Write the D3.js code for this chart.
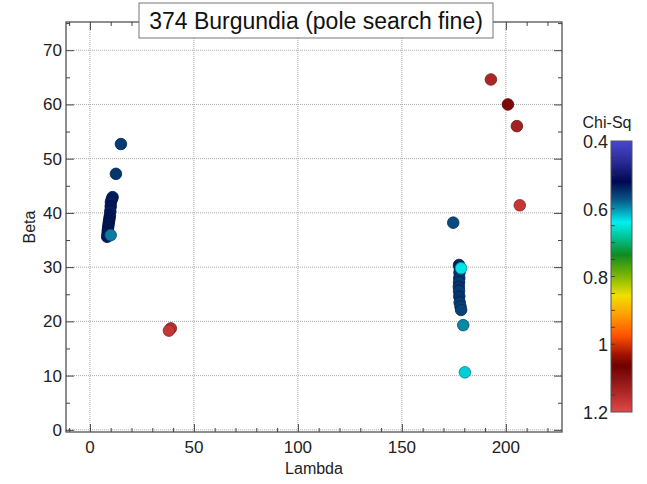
<!DOCTYPE html>
<html><head><meta charset="utf-8">
<script src="https://cdn.jsdelivr.net/npm/d3@7"></script>
<style>body{margin:0;background:#fff;} text{font-family:"Liberation Sans",Arial,sans-serif;}</style>
</head><body><svg id="c" width="647" height="484"></svg>
<script>
const title = "374 Burgundia (pole search fine)";
const lambda = [14.9,12.5,10.9,10.5,10.1,10.0,9.8,9.6,9.4,9.2,9.0,8.8,8.6,8.5,8.3,10.0,38.9,38.0,
  192.8,201.0,205.3,206.7,174.7,177.5,177.8,177.7,177.6,177.5,177.4,177.5,177.6,177.8,178.2,178.5,178.5,179.5,180.3];
const beta = [52.7,47.2,42.9,42.5,42.0,41.2,40.3,39.5,39.0,38.5,38.0,37.4,36.8,36.2,35.6,35.9,18.7,18.3,
  64.6,60.0,56.0,41.4,38.2,30.4,29.9,29.0,28.0,27.2,26.4,25.6,24.6,23.5,22.7,22.1,29.8,19.3,10.6];
const chisq = [0.555,0.55,0.54,0.535,0.535,0.53,0.535,0.53,0.53,0.53,0.53,0.53,0.53,0.53,0.53,0.59,1.16,1.17,
  1.14,1.08,1.13,1.17,0.565,0.54,0.545,0.55,0.55,0.555,0.55,0.555,0.55,0.555,0.56,0.56,0.635,0.595,0.625];
const xTicks = [0,50,100,150,200];
const yTicks = [0,10,20,30,40,50,60,70];
const cTicks = [0.4,0.6,0.8,1,1.2];
const cStops = [0,0.076,0.15,0.22,0.30,0.35,0.42,0.50,0.57,0.64,0.72,0.79,0.83,0.91,1];
const cColors = ["#4848d0","#2a2a98","#000850","#0a5a8a","#00f0f0","#00c8a0","#108a20","#80b800","#f0e000","#ffa000","#ff5000","#a01000","#700000","#a02020","#e04848"];

const svg = d3.select("#c");
const L=66,R=562,T=22,B=432;
const x = d3.scaleLinear().domain([-11.5,227]).range([L,R]);
const y = d3.scaleLinear().domain([-0.4,75.2]).range([B,T]);
const cFrac = d3.scaleLinear().domain([0.4,1.2]).range([0,1]).clamp(true);
const cmap = d3.scaleLinear().domain(cStops).range(cColors).interpolate(d3.interpolateRgb);
const color = v => cmap(cFrac(v));

// grid
const g = svg.append("g");
g.selectAll(".gx").data(xTicks).join("line").attr("x1",d=>x(d)).attr("x2",d=>x(d)).attr("y1",T).attr("y2",B)
 .attr("stroke","#aaa").attr("stroke-dasharray","1,1").attr("stroke-width",1);
g.selectAll(".gy").data(yTicks).join("line").attr("y1",d=>y(d)).attr("y2",d=>y(d)).attr("x1",L).attr("x2",R)
 .attr("stroke","#aaa").attr("stroke-dasharray","1,1").attr("stroke-width",1);

// axes (ticks inside)
const ax = svg.append("g");
function xAxis(pos, dir){
  const a = ax.append("g").attr("transform",`translate(0,${pos})`);
  a.call(d3.axisBottom(x).tickValues(d3.range(-10,227,10)).tickSize(-4*dir).tickFormat(""));
  a.call(g2=>g2.selectAll(".tick line").filter(d=>d%50===0).attr("y2",-8*dir));
  a.select(".domain").remove();
}
function yAxis(pos, dir){
  const a = ax.append("g").attr("transform",`translate(${pos},0)`);
  a.call(d3.axisLeft(y).tickValues(d3.range(0,76,5)).tickSize(-4*dir).tickFormat(""));
  a.call(g2=>g2.selectAll(".tick line").filter(d=>d%10===0).attr("x2",8*dir));
  a.select(".domain").remove();
}
xAxis(B,1); xAxis(T,-1); yAxis(L,1); yAxis(R,-1);
ax.selectAll("line").attr("stroke","#444");
svg.append("rect").attr("x",L).attr("y",T).attr("width",R-L).attr("height",B-T).attr("fill","none").attr("stroke","#444").attr("stroke-width",1.2);

// tick labels
svg.append("g").selectAll("text").data(xTicks).join("text").attr("x",d=>x(d)).attr("y",B+21)
 .attr("text-anchor","middle").attr("font-size",17).attr("fill","#222").text(d=>d);
svg.append("g").selectAll("text").data(yTicks).join("text").attr("x",L-4).attr("y",d=>y(d)+6)
 .attr("text-anchor","end").attr("font-size",17).attr("fill","#222").text(d=>d);
svg.append("text").attr("x",(L+R)/2).attr("y",474).attr("text-anchor","middle").attr("font-size",16).attr("fill","#222").text("Lambda");
svg.append("text").attr("transform",`translate(35,${(T+B)/2}) rotate(-90)`).attr("text-anchor","middle").attr("font-size",16).attr("fill","#222").text("Beta");

// points
const pts = lambda.map((l,i)=>({l, b:beta[i], c:chisq[i]}));
svg.append("g").selectAll("circle").data(pts).join("circle")
 .attr("cx",d=>x(d.l)).attr("cy",d=>y(d.b)).attr("r",5.8)
 .attr("fill",d=>color(d.c)).attr("stroke",d=>d3.color(color(d.c)).darker(1.2)).attr("stroke-width",0.8);

// title box
const tt = svg.append("g");
tt.append("rect").attr("x",139).attr("y",3).attr("width",354).attr("height",35).attr("fill","#fff").attr("stroke","#777");
tt.append("text").attr("x",316).attr("y",29).attr("text-anchor","middle").attr("font-size",23).attr("fill","#111").text(title);

// colorbar
const cbX=611, cbW=21, cbT=141, cbB=412;
const cy = d3.scaleLinear().domain([0.4,1.2]).range([cbT,cbB]);
const defs = svg.append("defs");
const grad = defs.append("linearGradient").attr("id","cg").attr("x1",0).attr("x2",0).attr("y1",0).attr("y2",1);
grad.selectAll("stop").data(cStops).join("stop").attr("offset",d=>d).attr("stop-color",(d,i)=>cColors[i]);
svg.append("rect").attr("x",cbX).attr("y",cbT).attr("width",cbW).attr("height",cbB-cbT).attr("fill","url(#cg)").attr("stroke","#555");
svg.append("g").selectAll("line").data(d3.range(0.45,1.2,0.05)).join("line")
 .attr("x1",cbX).attr("x2",cbX+4).attr("y1",d=>cy(d)).attr("y2",d=>cy(d)).attr("stroke","#333").attr("stroke-width",0.8);
svg.append("g").selectAll("text").data(cTicks).join("text").attr("x",cbX-3).attr("y",d=>cy(d)+7)
 .attr("text-anchor","end").attr("font-size",18).attr("fill","#222").text(d=>d);
svg.append("text").attr("x",607).attr("y",128).attr("text-anchor","middle").attr("font-size",16).attr("fill","#222").text("Chi-Sq");
</script></body></html>
